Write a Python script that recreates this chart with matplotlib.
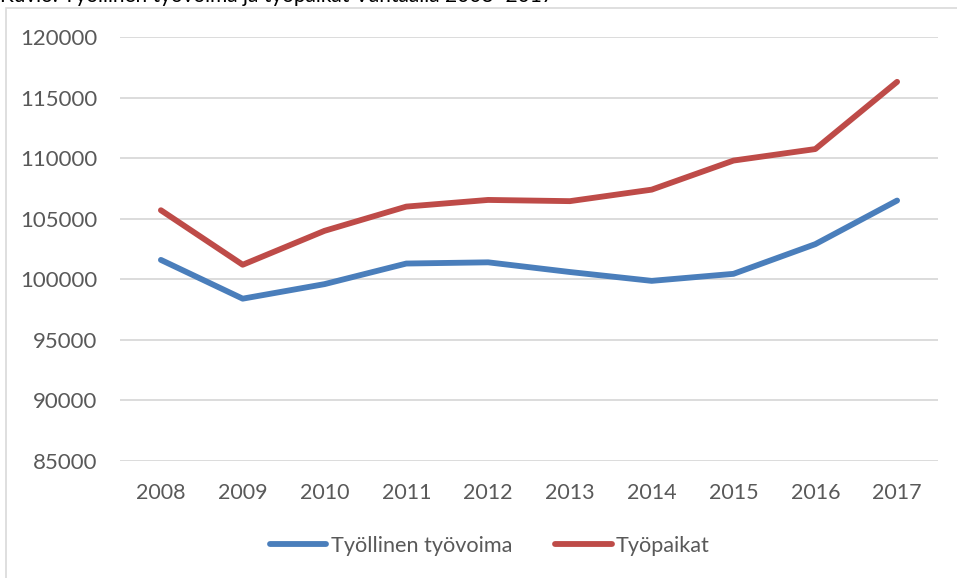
import matplotlib
matplotlib.use("Agg")
import matplotlib.pyplot as plt
from matplotlib.patches import Rectangle

plt.rcParams['font.family'] = ['Lato', 'DejaVu Sans']

# Data
years = ['2008', '2009', '2010', '2011', '2012', '2013', '2014', '2015', '2016', '2017']
tyovoima = [101600, 98400, 99600, 101300, 101400, 100600, 99870, 100450, 102900, 106500]
tyopaikat = [105700, 101200, 104000, 106000, 106550, 106450, 107400, 109800, 110750, 116300]
yticks = [85000, 90000, 95000, 100000, 105000, 110000, 115000, 120000]

blue = '#4a7ebb'
red = '#be4b48'
grey_txt = '#595959'

fig = plt.figure(figsize=(9.57, 5.78), dpi=100)

# chart-area border (cut by the figure edge on the right and bottom)
fig.patches.append(Rectangle((6 / 957, -0.05), 1.0, 1 - 8.5 / 578 + 0.05,
                             transform=fig.transFigure, fill=False,
                             edgecolor='#d9d9d9', linewidth=1.2))

# title, partly cut off at the top as in the source
fig.text(0.0, 1 + 4 / 578, 'Kuvio: Työllinen työvoima ja työpaikat Vantaalla 2008–2017',
         ha='left', va='center', fontsize=15, color='black')

ax = fig.add_axes([120 / 957, 1 - 461 / 578, (938 - 120) / 957, (461 - 37) / 578])
x = range(len(years))
ax.plot(x, tyovoima, color=blue, linewidth=4.2, solid_capstyle='round',
        solid_joinstyle='round', label='Työllinen työvoima')
ax.plot(x, tyopaikat, color=red, linewidth=4.2, solid_capstyle='round',
        solid_joinstyle='round', label='Työpaikat')

ax.set_xlim(-0.5, len(years) - 0.5)
ax.set_ylim(85000, 120000)
ax.set_yticks(yticks)
ax.set_yticklabels([str(v) for v in yticks])
ax.set_xticks(list(x))
ax.set_xticklabels(years)
ax.grid(axis='y', color='#d9d9d9', linewidth=1.3)
ax.set_axisbelow(True)
for s in ax.spines.values():
    s.set_visible(False)
ax.tick_params(length=0, colors=grey_txt)
ax.tick_params(axis='y', labelsize=16, pad=16.5)
ax.tick_params(axis='x', labelsize=15.5, pad=16)

leg = fig.legend(loc='center', bbox_to_anchor=(490 / 957, 1 - 546 / 578), ncol=2,
                 frameon=False, fontsize=15.6, handlelength=2.6, handletextpad=0.2,
                 columnspacing=2.0)
for t in leg.get_texts():
    t.set_color(grey_txt)

fig.savefig('out.png', dpi=100)
